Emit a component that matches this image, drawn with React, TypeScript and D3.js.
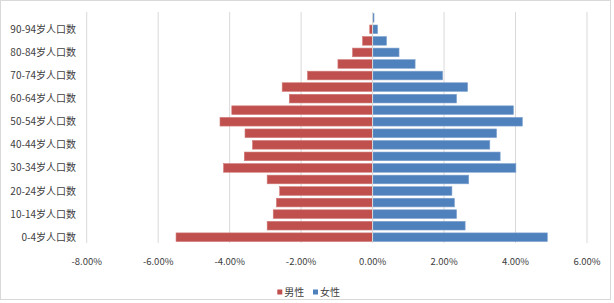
import React from "react";
import * as d3 from "d3";

const categories = [
  "0-4岁人口数", "5-9岁人口数", "10-14岁人口数", "15-19岁人口数", "20-24岁人口数",
  "25-29岁人口数", "30-34岁人口数", "35-39岁人口数", "40-44岁人口数", "45-49岁人口数",
  "50-54岁人口数", "55-59岁人口数", "60-64岁人口数", "65-69岁人口数", "70-74岁人口数",
  "75-79岁人口数", "80-84岁人口数", "85-89岁人口数", "90-94岁人口数", "95-99岁人口数",
];
const male = [-5.5, -2.95, -2.78, -2.69, -2.6, -2.95, -4.17, -3.59, -3.36, -3.57, -4.27, -3.94, -2.33, -2.53, -1.82, -0.97, -0.56, -0.28, -0.08, 0];
const female = [4.89, 2.59, 2.35, 2.29, 2.22, 2.69, 4.01, 3.57, 3.28, 3.47, 4.19, 3.94, 2.35, 2.66, 1.96, 1.19, 0.74, 0.39, 0.14, 0.04];
const xTicks = [-8, -6, -4, -2, 0, 2, 4, 6];
const seriesNames = ["男性", "女性"];
const colors = ["#C0504D", "#4F81BD"];

const W = 614, H = 303;
const FONT = "'Noto Sans CJK SC', 'Noto Sans', sans-serif";
const TEXT = "#404040";

export default function App() {
  const x = d3.scaleLinear().domain([-8, 6]).range([86.7, 587]);
  const y = d3.scaleBand<string>().domain([...categories].reverse()).range([12, 243]).paddingInner(0.25).paddingOuter(0.125);
  const bh = y.bandwidth();
  return (
    <div style={{ position: "fixed", left: 0, top: 0 }}>
      <svg width={W} height={H} style={{ display: "block", background: "#fff" }}>
        <rect x={0.5} y={0.5} width={610} height={299} fill="#fff" stroke="#d9d9d9" />
        {xTicks.map((t) => (
          <line key={"g" + t} x1={x(t)} x2={x(t)} y1={12} y2={243} stroke="#d9d9d9" strokeWidth={1} />
        ))}
        {categories.map((c, i) => (
          <g key={c}>
            <rect x={x(male[i])} y={y(c)} width={x(0) - x(male[i])} height={bh} fill={colors[0]} stroke="#d07a78" strokeWidth={0.6} />
            <rect x={x(0)} y={y(c)} width={x(female[i]) - x(0)} height={bh} fill={colors[1]} stroke="#7fa2cf" strokeWidth={0.6} />
          </g>
        ))}
        <line x1={x(0)} x2={x(0)} y1={12} y2={243} stroke="#d9d9d9" strokeWidth={1} />
        {categories.map((c, i) =>
          i % 2 === 0 ? (
            <text key={"l" + c} x={76} y={(y(c) as number) + bh / 2} dy="0.35em" textAnchor="end" fontSize={10} fontFamily={FONT} fill={TEXT}>
              {c}
            </text>
          ) : null
        )}
        {xTicks.map((t) => (
          <text key={"t" + t} x={x(t)} y={261.6} dy="0.35em" textAnchor="middle" fontSize={9.5} fontFamily={FONT} fill={TEXT}>
            {t.toFixed(2) + "%"}
          </text>
        ))}
        {seriesNames.map((s, i) => (
          <g key={s} transform={`translate(${277.3 + i * 35.7},0)`}>
            <rect x={0} y={289.5} width={5} height={5} fill={colors[i]} />
            <text x={7} y={292} dy="0.35em" fontSize={10} fontFamily={FONT} fill={TEXT}>
              {s}
            </text>
          </g>
        ))}
      </svg>
    </div>
  );
}
